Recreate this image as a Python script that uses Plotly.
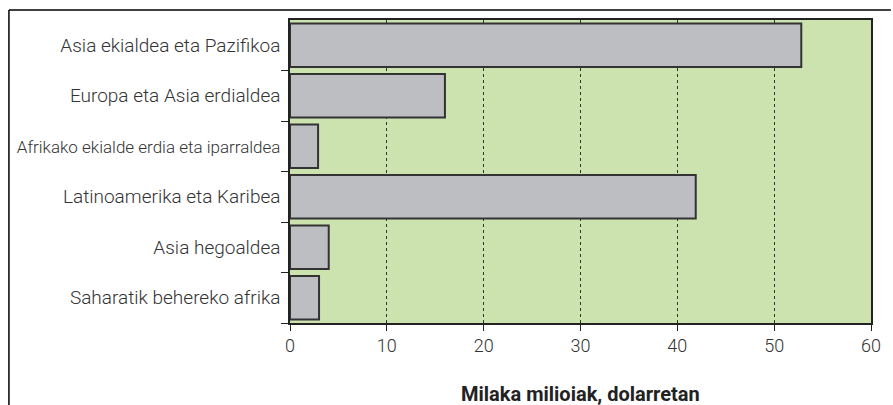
import plotly.graph_objects as go

regions = [
    "Asia ekialdea eta Pazifikoa",
    "Europa eta Asia erdialdea",
    "Afrikako ekialde erdia eta iparraldea",
    "Latinoamerika eta Karibea",
    "Asia hegoaldea",
    "Saharatik behereko afrika",
]
values = [52.8, 16.0, 2.9, 41.9, 4.0, 3.0]
x_ticks = [0, 10, 20, 30, 40, 50, 60]
x_title = "Milaka milioiak, dolarretan"

W, H = 893, 405
L, R, T, B = 290, 18, 20, 82
pw, ph = W - L - R, H - T - B

def px_x(px):
    return (px - L) / pw

def px_y(py):
    return (H - B - py) / ph

label_font = dict(family="Roboto", size=19, color="#333333", weight=300)

# the longest region name is set slightly smaller so it fits the margin
region_text = [
    f'<span style="font-size:17px">{r}</span>' if len(r) > 30 else r
    for r in regions
]

fig = go.Figure(
    go.Bar(
        x=values,
        y=regions,
        orientation="h",
        marker=dict(color="#bdbec2", line=dict(color="#333333", width=2)),
        hoverinfo="skip",
    )
)

fig.update_layout(
    width=W,
    height=H,
    margin=dict(l=L, r=R, t=T, b=B, pad=0),
    paper_bgcolor="white",
    plot_bgcolor="#cce3b0",
    bargap=0.14,
    showlegend=False,
    font=label_font,
    xaxis=dict(
        range=[0, 60],
        tickvals=x_ticks,
        ticktext=[str(v) for v in x_ticks],
        ticks="outside",
        ticklen=6,
        tickcolor="#222222",
        tickwidth=1,
        tickfont=dict(family="Roboto", size=18, color="#333333", weight=300),
        showgrid=True,
        gridcolor="#333333",
        gridwidth=1,
        griddash="dot",
        showline=True,
        linecolor="#222222",
        linewidth=1.5,
        mirror=True,
        zeroline=False,
        fixedrange=True,
    ),
    yaxis=dict(
        categoryorder="array",
        categoryarray=regions[::-1],
        tickmode="array",
        tickvals=regions,
        ticktext=region_text,
        tickson="boundaries",
        ticks="outside",
        ticklen=7,
        tickcolor="#222222",
        tickwidth=1,
        tickfont=label_font,
        ticklabelstandoff=4,
        showgrid=False,
        showline=True,
        linecolor="#222222",
        linewidth=1.5,
        mirror=True,
        zeroline=False,
        fixedrange=True,
    ),
    annotations=[
        dict(
            text="<b>" + x_title + "</b>",
            xref="paper",
            yref="paper",
            x=0.5,
            y=px_y(394),
            xanchor="center",
            yanchor="middle",
            showarrow=False,
            font=dict(family="Roboto", size=20, color="#222222"),
        )
    ],
    shapes=[
        dict(type="line", xref="paper", yref="paper",
             x0=px_x(7), x1=px_x(W + 2), y0=px_y(10), y1=px_y(10),
             line=dict(color="black", width=1.5)),
        dict(type="line", xref="paper", yref="paper",
             x0=px_x(7), x1=px_x(7), y0=px_y(10), y1=px_y(H + 2),
             line=dict(color="black", width=1.5)),
    ],
)

fig.write_html("out.html")
